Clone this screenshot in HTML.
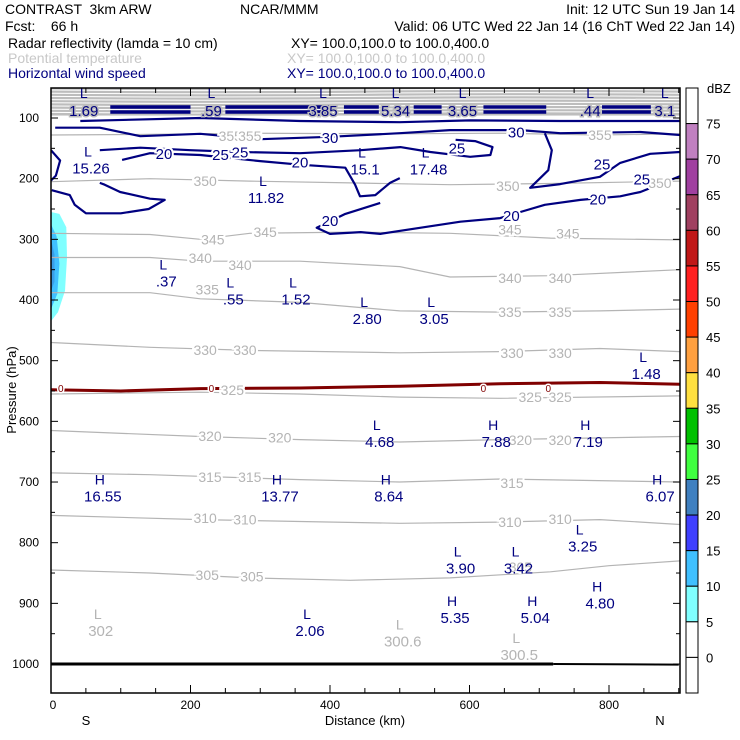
<!DOCTYPE html>
<html><head><meta charset="utf-8"><style>
body{margin:0;background:#fff;}
svg{display:block;font-family:"Liberation Sans",sans-serif;}
</style></head><body>
<svg id="chart" width="740" height="740" viewBox="0 0 740 740">
<g font-size="14">
<text x="5" y="14" xml:space="preserve">CONTRAST  3km ARW</text>
<text x="240" y="14">NCAR/MMM</text>
<text x="735" y="14" text-anchor="end">Init: 12 UTC Sun 19 Jan 14</text>
<text x="5" y="31" xml:space="preserve">Fcst:    66 h</text>
<text x="735" y="31" text-anchor="end">Valid: 06 UTC Wed 22 Jan 14 (16 ChT Wed 22 Jan 14)</text>
<text x="8" y="48">Radar reflectivity (lamda = 10 cm)</text>
<text x="291" y="48">XY= 100.0,100.0 to 100.0,400.0</text>
<text x="8" y="63" fill="#c8c8c8">Potential temperature</text>
<text x="287" y="63" fill="#c8c8c8">XY= 100.0,100.0 to 100.0,400.0</text>
<text x="8" y="78" fill="#000080">Horizontal wind speed</text>
<text x="287" y="78" fill="#000080">XY= 100.0,100.0 to 100.0,400.0</text>
</g>
<defs><clipPath id="plotclip"><rect x="51" y="88" width="629" height="605"/></clipPath></defs>
<g id="plot" clip-path="url(#plotclip)"></g>
<g id="labels"></g>
<rect x="51" y="88" width="629" height="605" fill="none" stroke="#000" stroke-width="1.5"/>
<g id="axes" font-size="12"></g>
<g id="cbar" font-size="13"></g>
<text x="365" y="725" font-size="13" text-anchor="middle">Distance (km)</text>
<text x="86" y="725" font-size="13" text-anchor="middle">S</text>
<text x="660" y="725" font-size="13" text-anchor="middle">N</text>
<text transform="translate(16,390) rotate(-90)" font-size="13" text-anchor="middle">Pressure (hPa)</text>
</svg>
<script>
// ---- data ----
const thetaLevels=[355,350,345,340,335,330,325,320,315,310,305];
const thetaLines=[
[[0,128],[142,127],[285,125],[500,126],[644,125],[787,128],[902,126]],
[[0,205],[142,200],[285,204],[429,207],[572,210],[716,208],[902,204]],
[[0,290],[142,292],[214,300],[285,290],[429,288],[572,290],[716,298],[902,301]],
[[0,330],[142,330],[214,336],[357,336],[500,345],[572,362],[716,360],[902,350]],
[[0,388],[142,388],[214,398],[357,404],[500,418],[644,420],[787,418],[902,415]],
[[0,470],[142,478],[285,483],[500,487],[644,485],[787,480],[902,485]],
[[0,555],[214,552],[357,555],[500,560],[644,562],[902,558]],
[[0,615],[214,625],[357,630],[500,634],[644,630],[902,625]],
[[0,685],[142,688],[357,696],[500,700],[644,695],[902,700]],
[[0,755],[214,762],[357,765],[500,768],[644,766],[787,762],[902,770]],
[[0,845],[142,850],[285,858],[429,862],[572,858],[716,848],[800,838],[902,830]]];
const thetaLabelPos=[
[[257,130],[285,130],[787,128]],
[[221,204],[655,212],[873,207]],
[[232,300],[307,288],[658,284],[741,290]],
[[214,331],[271,342],[658,364],[730,364]],
[[224,383],[658,420],[730,420]],
[[221,482],[278,482],[661,487],[730,487]],
[[260,548],[687,560],[730,560]],
[[228,624],[328,627],[673,631],[730,631]],
[[228,692],[285,692],[661,702]],
[[221,759],[278,762],[658,766],[730,761]],
[[224,853],[288,856],[673,840]]];
const windLines=[
[[42,105],[214,100],[357,105],[500,107],[601,104],[730,105],[902,105]],
[[6,116],[70,116],[128,130],[214,126],[300,135],[400,131],[500,125],[572,120],[673,120],[730,125],[845,123],[902,128]],
[[708,125],[718,153],[713,186],[687,215],[730,209],[787,197],[816,174],[859,159],[902,156]],
[[70,153],[128,149],[200,153],[271,156],[357,158],[444,153],[501,148],[544,156],[601,164],[630,161],[633,148],[608,138],[580,136]],
[[102,169],[142,158],[214,161],[300,171],[357,177],[422,182],[436,210],[443,229],[465,227],[486,207],[500,199]],
[[472,240],[422,258],[381,281],[400,291],[444,288],[472,291],[529,281],[587,271],[644,265],[673,255],[708,243],[759,235],[816,229],[845,222],[902,196]],
[[1,219],[27,227],[34,243],[50,257],[100,257],[140,250],[163,235],[142,233],[99,222],[77,210],[70,207]],
[[0,153],[13,170],[7,195],[0,203]]];
const windLabelText=["30","30","25","25","20","25","20","20","20","25","25","20"];
const windLabelPos=[[400,131],[667,122],[582,149],[271,155],[162,158],[243,159],[357,172],[400,268],[784,233],[847,200],[790,175],[660,260]];
const zeroLine=[[0,548],[100,550],[214,546],[357,545],[500,542],[644,538],[787,536],[902,539]];
const zeroLabelKm=[14,230,620,713];
const groundKm=[0,720,900];
const groundP=[1000,1000,1001];
const topVals=["1.69",".59","3.85","5.34","3.65",".44","3.1"];
const topKm=[47,230,390,494,590,773,880];
const barSpans=[[85,200],[250,400],[420,470],[520,560],[620,710],[790,860]];
const navyExtremaType=["L","L","L","L","L","L","L","L","L","L","L","H","H","H","H","H","H","L","L","L","H","H","H","L"];
const navyExtremaVal=["15.26","11.82","15.1","17.48",".37",".55","1.52","2.80","3.05","1.48","4.68","7.88","7.19","16.55","13.77","8.64","6.07","3.25","3.90","3.42","4.80","5.35","5.04","2.06"];
const navyExtremaKm=[53,304,446,537,161,257,347,449,545,849,467,634,766,70,324,480,869,758,583,666,783,575,690,367];
const navyExtremaP=[170,219,172,172,356,386,386,418,418,509,621,621,621,711,711,711,711,793,829,829,887,911,911,932];
const grayExtremaVal=["302","300.6","300.5"];
const grayExtremaKm=[67,500,667];
const grayExtremaP=[932,950,972];
const reflOuter=[[0,255],[12,258],[22,280],[23,330],[20,385],[10,420],[0,435]];
const reflMid=[[0,275],[8,295],[12,340],[9,390],[0,415]];
const reflInner=[[0,300],[5,325],[5,370],[0,385]];
const cbarLabels=["75","70","65","60","55","50","45","40","35","30","25","20","15","10","5","0"];
const cbarColors=["#ffffff","#c080c0","#a040a0","#a04060","#c01818","#ff2020","#ff4000","#ffa040","#ffe040","#00c000","#40ff40","#4080c0","#4040ff","#40c0ff","#80ffff","#ffffff","#ffffff"];
const pTicks=[100,200,300,400,500,600,700,800,900,1000];
const xTicks=[0,200,400,600,800];

// ---- scales ----
const NS="http://www.w3.org/2000/svg";
function X(km){return 51+km*0.6975;}
function Y(p){return 118+(p-100)*0.6067;}
function mk(tag,attrs,parent){const e=document.createElementNS(NS,tag);for(const k in attrs)e.setAttribute(k,attrs[k]);parent.appendChild(e);return e;}
function pts(arr){return arr.map(a=>X(a[0]).toFixed(1)+","+Y(a[1]).toFixed(1)).join(" ");}
const plot=document.getElementById("plot"),labels=document.getElementById("labels"),axes=document.getElementById("axes"),cbar=document.getElementById("cbar");

// reflectivity
[[reflOuter,"#80ffff"],[reflMid,"#40c0ff"],[reflInner,"#3a9ee8"]].forEach(([d,c])=>{
const e=mk("polygon",{points:pts(d),fill:c},plot);


});
// stratospheric band
const band=mk("rect",{x:51,y:88,width:629,height:Y(96)-88,fill:"#bdbdbd"},plot);


for(let y=90;y<Y(96);y+=3.2){
const l=mk("path",{d:`M51 ${y} Q200 ${y+1.2} 360 ${y} T680 ${y}`,stroke:"#fff","stroke-width":1,fill:"none"},plot);


}
// isentropes
thetaLines.forEach((ln,i)=>{
const e=mk("polyline",{points:pts(ln),fill:"none",stroke:"#b4b4b4","stroke-width":1.2},plot);


thetaLabelPos[i].forEach(p=>{
const t=mk("text",{x:X(p[0]),y:Y(p[1])+5,"text-anchor":"middle","font-size":14,fill:"#b4b4b4",stroke:"#fff","stroke-width":4,"paint-order":"stroke"},labels);
t.textContent=thetaLevels[i];


});
});
// top dashed wind bars
barSpans.forEach(s=>{
[107,112].forEach(yy=>{
const e=mk("line",{x1:X(s[0]),x2:X(s[1]),y1:yy,y2:yy,stroke:"#000080","stroke-width":3.5},plot);


});
});
// wind contours
windLines.forEach(ln=>{
const e=mk("polyline",{points:pts(ln),fill:"none",stroke:"#000080","stroke-width":2.2,"stroke-linejoin":"round"},plot);


});
windLabelPos.forEach((p,i)=>{
const t=mk("text",{x:X(p[0]),y:Y(p[1])+6,"text-anchor":"middle","font-size":15,fill:"#000080",stroke:"#fff","stroke-width":4,"paint-order":"stroke"},labels);
t.textContent=windLabelText[i];


});
// zero line
const z=mk("polyline",{points:pts(zeroLine),fill:"none",stroke:"#800000","stroke-width":3},plot);


zeroLabelKm.forEach(k=>{
const t=mk("text",{x:X(k),y:Y(545)+4,"text-anchor":"middle","font-size":10,fill:"#800000",stroke:"#fff","stroke-width":3,"paint-order":"stroke"},labels);
t.textContent="0";


});
// ground
for(let i=0;i<groundKm.length-1;i++){
const g=mk("line",{x1:X(groundKm[i]),x2:X(groundKm[i+1]),y1:Y(groundP[i]),y2:Y(groundP[i+1]),stroke:"#000","stroke-width":i==0?3:2},plot);


}
// top extrema
topVals.forEach((v,i)=>{
const t=mk("text",{x:X(topKm[i]),y:116,"text-anchor":"middle","font-size":15,fill:"#000080",stroke:"#bdbdbd","stroke-width":3,"paint-order":"stroke"},labels);
t.textContent=v;


const l=mk("text",{x:X(topKm[i]),y:98,"text-anchor":"middle","font-size":14,fill:"#000080"},labels);
l.textContent="L";


});
navyExtremaVal.forEach((v,i)=>{
const x=X(navyExtremaKm[i]),y=Y(navyExtremaP[i]);
const a=mk("text",{x:x,y:y-4,"text-anchor":"middle","font-size":14,fill:"#000080"},labels);
a.textContent=navyExtremaType[i];


const b=mk("text",{x:x+3,y:y+13,"text-anchor":"middle","font-size":15,fill:"#000080"},labels);
b.textContent=v;


});
grayExtremaVal.forEach((v,i)=>{
const x=X(grayExtremaKm[i]),y=Y(grayExtremaP[i]);
const a=mk("text",{x:x,y:y-4,"text-anchor":"middle","font-size":14,fill:"#b4b4b4"},labels);
a.textContent="L";


const b=mk("text",{x:x+3,y:y+13,"text-anchor":"middle","font-size":15,fill:"#b4b4b4"},labels);
b.textContent=v;


});
// axes
for(let p=50;p<=1050;p+=50){
const y=Y(p);if(y<88||y>693)continue;
const L=p%100==0?7:4;
[[51,51+L],[680,680-L]].forEach(s=>{
const e=mk("line",{x1:s[0],x2:s[1],y1:y,y2:y,stroke:"#000"},axes);


});
}
pTicks.forEach(p=>{
const t=mk("text",{x:39,y:Y(p)+4,"text-anchor":"end"},axes);
t.textContent=p;


});
for(let k=0;k<=900;k+=50){
const x=X(k);if(x>680)continue;
const L=k%200==0?8:5;
[[693,693-L],[88,88+L]].forEach(s=>{
const e=mk("line",{x1:x,x2:x,y1:s[0],y2:s[1],stroke:"#000"},axes);


});
}
xTicks.forEach(k=>{
const t=mk("text",{x:X(k)+(k==0?2:0),y:709,"text-anchor":"middle"},axes);
t.textContent=k;


});
// colorbar
const cTop=88,cH=605/17;
cbarColors.forEach((c,i)=>{
const r=mk("rect",{x:686,y:cTop+i*cH,width:12,height:cH,fill:c,stroke:"#000","stroke-width":1},cbar);


});
cbarLabels.forEach((v,i)=>{
const t=mk("text",{x:706,y:cTop+(i+1)*cH+5},cbar);
t.textContent=v;


});
const u=mk("text",{x:707,y:93},cbar);
u.textContent="dBZ";


</script>
</body></html>
